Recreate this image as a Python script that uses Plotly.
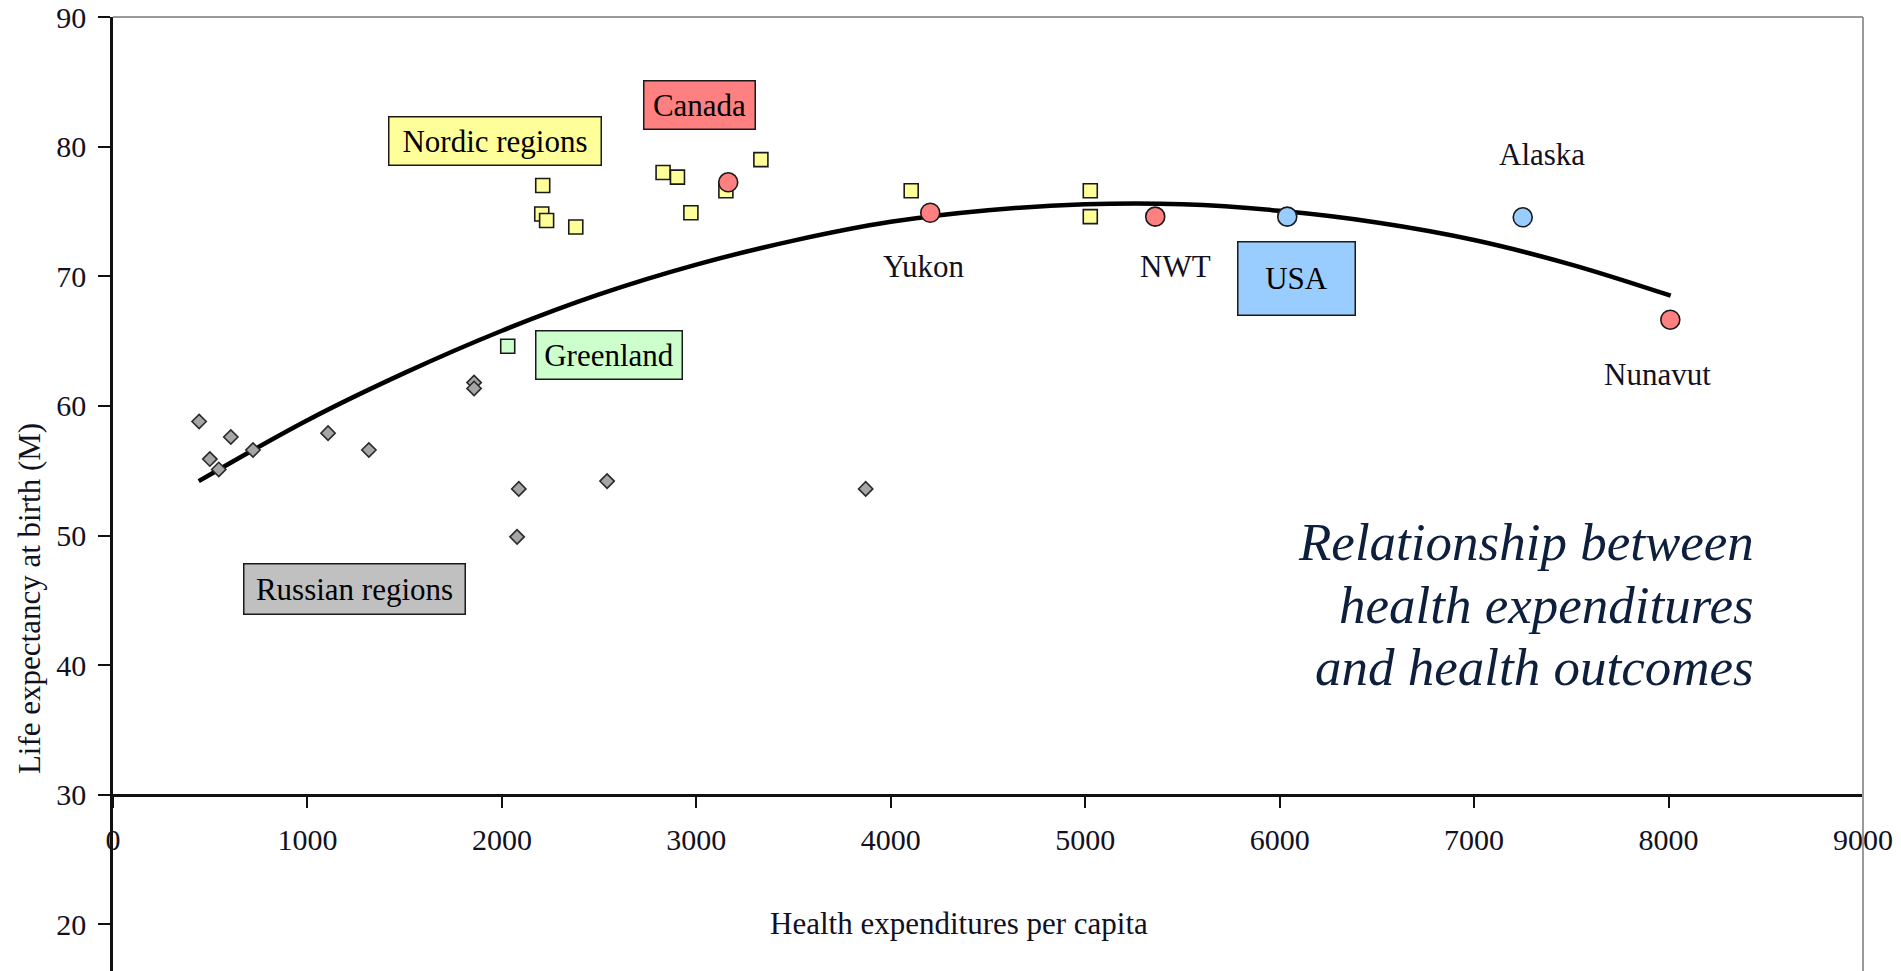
import plotly.graph_objects as go

# ---------------- data ----------------
russia_x = [443, 498, 544, 606, 720, 1106, 1316, 1857, 1857, 2087, 2078, 2541, 3871]
russia_y = [58.8, 55.9, 55.1, 57.6, 56.6, 57.9, 56.6, 61.8, 61.35, 53.6, 49.9, 54.2, 53.6]

nordic_x = [2210, 2205, 2230, 2380, 2829, 2903, 2972, 3152, 3332, 4105, 5026, 5026]
nordic_y = [77.0, 74.8, 74.3, 73.8, 78.0, 77.65, 74.9, 76.6, 79.0, 76.6, 76.6, 74.6]

greenland_x = [2030]
greenland_y = [64.6]

canada_names = ["Canada", "Yukon", "NWT", "Nunavut"]
canada_x = [3164, 4203, 5360, 8009]
canada_y = [77.25, 74.9, 74.6, 66.65]

usa_names = ["USA", "Alaska"]
usa_x = [6039, 7250]
usa_y = [74.6, 74.55]

trend_x = [441, 1000, 1500, 2000, 2500, 3000, 3500, 4000, 4500, 5000, 5500, 6000, 6500, 7000, 7500, 8011]
trend_y = [54.2, 58.9, 62.55, 65.8, 68.6, 70.9, 72.75, 74.2, 75.1, 75.55, 75.55, 75.05, 74.15, 72.8, 70.9, 68.5]

x_ticks = [0, 1000, 2000, 3000, 4000, 5000, 6000, 7000, 8000, 9000]
y_ticks = [20, 30, 40, 50, 60, 70, 80, 90]

x_title = "Health expenditures per capita"
y_title = "Life expectancy at birth (M)"
note_lines = ["Relationship between", "health expenditures", "and health outcomes"]

# group label boxes: text, x, y, fill colour, box width, box height
box_labels = [
    ("Nordic regions", 1965, 80.45, "#FFFF99", 214, 50),
    ("Canada", 3016, 83.23, "#FF8080", 113, 50),
    ("Greenland", 2552, 63.94, "#CCFFCC", 148, 50),
    ("Russian regions", 1240, 45.9, "#C0C0C0", 223, 52),
    ("USA", 6085, 69.86, "#99CCFF", 119, 75),
]
# plain point labels
plain_labels = [
    ("Yukon", 4170, 70.76),
    ("NWT", 5463, 70.76),
    ("Alaska", 7351, 79.4),
    ("Nunavut", 7945, 62.43),
]

Y_MIN, Y_MAX = 16.41, 90
X_MIN, X_MAX = 0, 9000
X_AXIS_AT = 30

FONT = "Liberation Serif"
TXT = "#111122"

fig = go.Figure()

fig.add_trace(go.Scatter(
    x=trend_x, y=trend_y, mode="lines", line=dict(color="black", width=4.5, shape="spline"),
    hoverinfo="skip", showlegend=False))

fig.add_trace(go.Scatter(
    x=russia_x, y=russia_y, mode="markers", name="Russian regions",
    marker=dict(symbol="diamond", size=11, color="#A6A6A6", line=dict(color="#2a2a2a", width=1.6)),
    showlegend=False))

fig.add_trace(go.Scatter(
    x=greenland_x, y=greenland_y, mode="markers", name="Greenland",
    marker=dict(symbol="square", size=14, color="#CCFFCC", line=dict(color="#1a1a1a", width=1.6)),
    showlegend=False))

fig.add_trace(go.Scatter(
    x=nordic_x, y=nordic_y, mode="markers", name="Nordic regions",
    marker=dict(symbol="square", size=14, color="#FFFF99", line=dict(color="#1a1a1a", width=1.6)),
    showlegend=False))

fig.add_trace(go.Scatter(
    x=canada_x, y=canada_y, mode="markers", name="Canada", text=canada_names,
    marker=dict(symbol="circle", size=19, color="#FF8080", line=dict(color="#1a1a1a", width=1.6)),
    showlegend=False))

fig.add_trace(go.Scatter(
    x=usa_x, y=usa_y, mode="markers", name="USA", text=usa_names,
    marker=dict(symbol="circle", size=19, color="#99CCFF", line=dict(color="#1a1a1a", width=1.6)),
    showlegend=False))

annotations = []
for text, ax, ay, fill, bw, bh in box_labels:
    annotations.append(dict(
        x=ax, y=ay, xref="x", yref="y", text=text, showarrow=False,
        font=dict(family=FONT, size=31, color="black"),
        bgcolor=fill, bordercolor="#1a1a1a", borderwidth=1.5, borderpad=0,
        width=bw - 3, height=bh - 3, align="center", valign="middle",
        xanchor="center", yanchor="middle"))

for text, ax, ay in plain_labels:
    annotations.append(dict(
        x=ax, y=ay, xref="x", yref="y", text=text, showarrow=False,
        font=dict(family=FONT, size=31, color=TXT),
        xanchor="center", yanchor="middle"))

note_y = [49.5, 44.65, 39.87]
for line, ny in zip(note_lines, note_y):
    annotations.append(dict(
        x=8452, y=ny, xref="x", yref="y", text="<i>" + line + "</i>", showarrow=False,
        font=dict(family=FONT, size=53, color="#0d1f3c"),
        xanchor="right", yanchor="middle"))

annotations.append(dict(
    x=4350, y=20.04, xref="x", yref="y", text=x_title, showarrow=False,
    font=dict(family=FONT, size=31, color=TXT), xanchor="center", yanchor="middle"))

annotations.append(dict(
    x=-0.048, y=45.1, xref="paper", yref="y", text=y_title, showarrow=False, textangle=-90,
    font=dict(family=FONT, size=31, color=TXT), xanchor="center", yanchor="middle"))

fig.update_layout(
    width=1901, height=971,
    margin=dict(l=113, r=38, t=17, b=0, pad=0),
    paper_bgcolor="white", plot_bgcolor="white",
    showlegend=False,
    annotations=annotations,
    shapes=[
        dict(type="line", xref="paper", yref="paper", x0=0, x1=1, y0=1, y1=1,
             line=dict(color="#9a9a9a", width=2)),
        dict(type="line", xref="paper", yref="paper", x0=1, x1=1, y0=0, y1=1,
             line=dict(color="#9a9a9a", width=2)),
    ],
    xaxis=dict(
        range=[X_MIN, X_MAX], tickvals=x_ticks, ticktext=[str(v) for v in x_ticks],
        anchor="free", position=(X_AXIS_AT - Y_MIN) / (Y_MAX - Y_MIN),
        showline=True, linecolor="#111111", linewidth=2.5,
        ticks="outside", ticklen=11, tickwidth=2, tickcolor="#111111",
        ticklabelstandoff=6,
        showgrid=False, zeroline=False,
        tickfont=dict(family=FONT, size=30, color=TXT),
    ),
    yaxis=dict(
        range=[Y_MIN, Y_MAX], tickvals=y_ticks, ticktext=[str(v) for v in y_ticks],
        showline=True, linecolor="#111111", linewidth=2.5,
        ticks="outside", ticklen=12, tickwidth=2, tickcolor="#111111",
        ticklabelstandoff=6,
        showgrid=False, zeroline=False,
        tickfont=dict(family=FONT, size=30, color=TXT),
    ),
)

fig.write_html("out.html", config={"displayModeBar": False},
               post_script="document.body.style.margin='0';")
